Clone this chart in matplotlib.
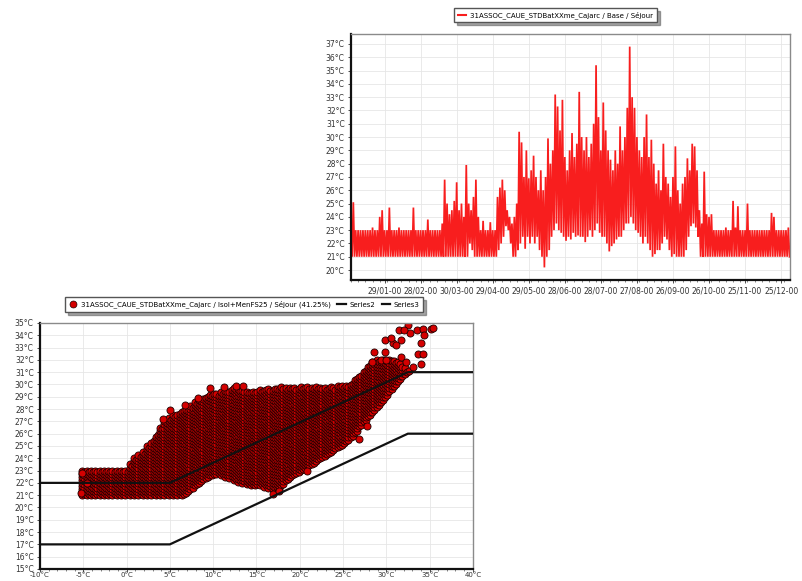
import numpy as np
import matplotlib
matplotlib.use("Agg")
import matplotlib.pyplot as plt
from matplotlib.lines import Line2D
from matplotlib.ticker import MultipleLocator

# ---------------- Top chart data (every 2 days, upper/lower envelope) -------------
days = list(range(0, 366, 2))
temp_high = [
    23.0, 25.1, 23.0, 23.0, 23.0, 23.0, 23.0, 23.0, 23.0, 23.2,
    23.0, 23.0, 24.0, 24.5, 23.0, 23.0, 24.7, 23.0, 23.0, 23.0,
    23.2, 23.0, 23.0, 23.0, 23.0, 23.0, 24.7, 23.0, 23.0, 23.0,
    23.0, 23.0, 23.8, 23.0, 23.0, 23.0, 23.0, 23.0, 23.5, 26.8,
    25.0, 24.2, 24.5, 25.2, 26.6, 24.5, 25.0, 24.0, 27.9, 25.0,
    24.5, 25.5, 26.8, 24.0, 23.0, 23.7, 23.0, 23.0, 23.6, 23.0,
    23.0, 25.5, 26.2, 26.8, 26.0, 24.5, 24.0, 23.5, 24.0, 25.0,
    30.4, 29.6, 27.0, 29.0, 26.9, 27.5, 28.6, 27.0, 26.0, 27.5,
    26.0, 27.0, 29.9, 28.0, 29.0, 33.2, 32.3, 30.5, 32.8, 28.5,
    27.5, 29.0, 30.3, 28.5, 29.5, 33.4, 30.0, 29.0, 30.0, 28.5,
    29.5, 31.0, 35.4, 31.5, 29.0, 32.6, 30.5, 29.0, 28.3, 27.5,
    29.0, 28.0, 30.8, 29.0, 30.0, 32.2, 36.8, 33.0, 32.2, 30.0,
    29.0, 28.5, 30.0, 31.7, 28.5, 29.8, 28.0, 26.5, 27.5, 26.0,
    29.5, 27.0, 26.5, 25.5, 27.0, 29.3, 26.0, 25.0, 26.5, 27.0,
    28.4, 27.5, 29.5, 29.3, 27.5, 24.5, 23.5, 27.4, 24.2, 24.0,
    24.2, 23.0, 23.0, 23.0, 23.0, 23.0, 23.2, 23.0, 23.0, 25.2,
    23.2, 24.8, 23.0, 23.0, 23.0, 25.0, 23.0, 23.0, 23.0, 23.0,
    23.0, 23.0, 23.0, 23.0, 23.0, 24.3, 24.0, 23.0, 23.0, 23.0,
    23.0, 23.0, 23.2,
]
temp_low = [
    21.0, 21.0, 21.0, 21.0, 21.0, 21.0, 21.0, 21.0, 21.0, 21.0,
    21.0, 21.0, 21.0, 21.0, 21.0, 21.0, 21.0, 21.0, 21.0, 21.0,
    21.0, 21.0, 21.0, 21.0, 21.0, 21.0, 21.0, 21.0, 21.0, 21.0,
    21.0, 21.0, 21.0, 21.0, 21.0, 21.0, 21.0, 21.0, 21.0, 21.0,
    21.0, 21.0, 21.0, 21.0, 21.0, 21.0, 21.0, 21.0, 21.0, 22.0,
    21.5, 21.0, 21.0, 21.0, 21.0, 21.0, 21.0, 21.0, 21.0, 21.0,
    21.0, 21.5, 22.0, 22.5, 23.3, 23.0, 22.0, 21.0, 21.0, 21.5,
    22.0, 22.5, 21.6, 22.5, 22.0, 22.5, 22.0, 22.5, 21.5, 21.0,
    20.2, 21.0, 21.5, 22.5, 23.0, 23.5, 23.0, 22.8, 22.5, 22.2,
    22.5, 22.3, 22.8, 22.5, 22.6, 22.5, 22.5, 22.1, 22.5, 23.0,
    22.5, 23.0, 23.5, 22.8, 22.5, 22.5, 22.0, 21.4, 21.8, 22.0,
    22.3, 22.5, 22.5, 23.0, 23.5, 23.5, 24.0, 23.5, 23.0, 22.8,
    22.5, 22.0, 22.5, 22.0, 21.5, 21.0, 21.2, 21.5, 21.5, 22.0,
    22.5, 22.3, 21.5, 21.0, 21.2, 21.0, 21.0, 21.0, 21.0, 21.5,
    22.5, 23.3, 23.5, 23.2, 22.5, 21.0, 21.0, 21.0, 21.0, 21.0,
    21.0, 21.0, 21.0, 21.0, 21.0, 21.0, 21.0, 21.0, 21.0, 21.0,
    21.0, 21.0, 21.0, 21.0, 21.0, 21.0, 21.0, 21.0, 21.0, 21.0,
    21.0, 21.0, 21.0, 21.0, 21.0, 21.0, 21.0, 21.0, 21.0, 21.0,
    21.0, 21.0, 21.0,
]
date_tick_days = [28, 58, 88, 118, 148, 178, 208, 238, 268, 298, 328, 358]
date_tick_labels = ["29/01-00", "28/02-00", "30/03-00", "29/04-00", "29/05-00",
                    "28/06-00", "28/07-00", "27/08-00", "26/09-00", "26/10-00",
                    "25/11-00", "25/12-00"]
top_label = "31ASSOC_CAUE_STDBatXXme_Cajarc / Base / Séjour"

# ---------------- Bottom chart data -------------
out_temp = [-5.0, -4.5, -4.0, -3.5, -3.0, -2.5, -2.0, -1.5, -1.0, -0.5,
            0.0, 0.5, 1.0, 1.5, 2.0, 2.5, 3.0, 3.5, 4.0, 4.5,
            5.0, 5.5, 6.0, 6.5, 7.0, 7.5, 8.0, 8.5, 9.0, 9.5,
            10.0, 10.5, 11.0, 11.5, 12.0, 12.5, 13.0, 13.5, 14.0, 14.5,
            15.0, 15.5, 16.0, 16.5, 17.0, 17.5, 18.0, 18.5, 19.0, 19.5,
            20.0, 20.5, 21.0, 21.5, 22.0, 22.5, 23.0, 23.5, 24.0, 24.5,
            25.0, 25.5, 26.0, 26.5, 27.0, 27.5, 28.0, 28.5, 29.0, 29.5,
            30.0, 30.5, 31.0, 31.5, 32.0, 32.5]
in_temp_high = [23.0, 23.0, 23.0, 23.0, 23.0, 23.0, 23.0, 23.0, 23.0, 23.0,
                23.1, 23.6, 24.0, 24.3, 24.6, 25.0, 25.4, 25.9, 26.5, 27.0,
                27.3, 27.5, 27.7, 27.9, 28.0, 28.3, 28.6, 28.8, 29.0, 29.2,
                29.3, 29.3, 29.4, 29.5, 29.6, 29.7, 29.6, 29.5, 29.4, 29.5,
                29.5, 29.6, 29.6, 29.6, 29.7, 29.7, 29.8, 29.8, 29.8, 29.8,
                29.8, 29.8, 29.8, 29.8, 29.8, 29.8, 29.8, 29.8, 29.8, 29.9,
                29.9, 29.9, 30.1, 30.5, 30.8, 31.2, 31.6, 31.8, 32.0, 32.0,
                32.0, 32.0, 32.0, 31.8, 31.5, 31.2]
in_temp_low = [21.0, 21.0, 21.0, 21.0, 21.0, 21.0, 21.0, 21.0, 21.0, 21.0,
               21.0, 21.0, 21.0, 21.0, 21.0, 21.0, 21.0, 21.0, 21.0, 21.0,
               21.0, 21.0, 21.0, 21.0, 21.2, 21.5, 21.8, 22.0, 22.3, 22.5,
               22.6, 22.7, 22.6, 22.5, 22.4, 22.2, 22.1, 22.0, 21.9, 21.8,
               21.8, 21.8, 21.7, 21.6, 21.5, 21.4, 21.8, 22.2, 22.5, 22.7,
               22.9, 23.1, 23.3, 23.5, 23.8, 24.0, 24.2, 24.4, 24.7, 24.9,
               25.1, 25.4, 25.7, 26.1, 26.6, 27.0, 27.4, 27.8, 28.2, 28.6,
               29.0, 29.5, 29.9, 30.3, 30.7, 31.0]
sparse_out = [28.4, 28.6, 29.8, 29.8, 30.75, 30.6, 31.5, 31.7, 32.5, 32.7,
              33.5, 34.2, 34.4, 34.0, 33.65, 34.2, 34.05, 35.2, 32.0, 31.1,
              29.4, 30.0, 31.7, 32.3, 33.1, 35.4,
              4.2, 5.0, 6.8, 8.3, 9.6, 11.2, 12.7, 13.4, 16.9, 17.6,
              -5.3, -5.2, -4.6, 27.8, 26.9, 20.8]
sparse_in = [31.85, 32.67, 32.67, 33.6, 33.35, 33.75, 34.4, 33.6, 34.8, 34.2,
             34.4, 34.5, 34.0, 33.35, 32.5, 32.5, 31.7, 34.5, 34.4, 33.2,
             32.0, 32.0, 32.26, 31.85, 31.45, 34.6,
             27.2, 27.9, 28.3, 28.9, 29.7, 29.8, 29.9, 29.9, 21.1, 21.3,
             21.2, 22.8, 22.0, 26.6, 25.6, 23.0]
series2_x = [-10, 5, 32.5, 40]
series2_y = [22, 22, 31, 31]
series3_x = [-10, 5, 32.5, 40]
series3_y = [17, 17, 26, 26]
bottom_label = "31ASSOC_CAUE_STDBatXXme_Cajarc / Isol+MenFS25 / Séjour (41.25%)"

# ---------------- Figure -------------
fig = plt.figure(figsize=(8.03, 5.81), dpi=100)
plt.rcParams['font.family'] = ['DejaVu Sans']
FS = 5.5
LFS = 5.0
RED = '#f81e1e'


def style_axes(ax):
    ax.grid(True, which='major', color='#e6e6e6', lw=0.6)
    ax.set_axisbelow(True)
    for s in ('left', 'bottom'):
        ax.spines[s].set_color('#111111')
        ax.spines[s].set_linewidth(1.6)
    for s in ('top', 'right'):
        ax.spines[s].set_color('#8a8a8a')
        ax.spines[s].set_linewidth(1.0)
    ax.tick_params(which='major', labelsize=FS, length=2.5, width=0.6,
                   colors='#333333', pad=2)
    ax.tick_params(which='minor', length=1.5, width=0.5, colors='#555555')


# Top chart: zigzag between the upper and lower values of each sample
ax1 = fig.add_axes([0.437, 0.518, 0.547, 0.4235])
d_arr = np.array(days, dtype=float)
xs = np.ravel(np.column_stack([d_arr, d_arr + 1.0]))
ys = np.ravel(np.column_stack([temp_high, temp_low]))
ax1.plot(xs, ys, color=RED, lw=1.25, solid_joinstyle='miter')
ax1.set_xlim(0, 365.5)
ax1.set_ylim(19.25, 37.75)
ax1.set_xticks(date_tick_days)
ax1.set_xticklabels(date_tick_labels)
ax1.xaxis.set_minor_locator(MultipleLocator(6))
ax1.set_yticks(range(20, 38))
ax1.set_yticklabels([f"{v}°C" for v in range(20, 38)])
style_axes(ax1)

fig.legend([Line2D([], [], color=RED, lw=1.5)], [top_label],
           loc='center', bbox_to_anchor=(0.692, 0.974), fontsize=LFS,
           frameon=True, fancybox=False, shadow=True, edgecolor='#555555',
           handlelength=1.2, borderpad=0.5, handletextpad=0.6)

# Bottom chart: each 0.5 °C outdoor bin is drawn as two sub-columns of points
ax2 = fig.add_axes([0.0498, 0.0207, 0.539, 0.4234])
px, py = [], []
for x, lo, hi in zip(out_temp, in_temp_low, in_temp_high):
    for dx, dy in ((-0.125, 0.0), (0.125, 0.12)):
        col = np.arange(lo + dy, hi + 1e-6, 0.25)
        px.extend([x + dx] * len(col))
        py.extend(col)
px.extend(sparse_out)
py.extend(sparse_in)
ax2.scatter(px, py, s=26, c='#d40000', edgecolors='#1e0000', linewidths=0.6, zorder=2)
ax2.plot(series2_x, series2_y, color='#111111', lw=1.6, zorder=3)
ax2.plot(series3_x, series3_y, color='#111111', lw=1.6, zorder=3)
ax2.set_xlim(-10, 40)
ax2.set_ylim(15, 35)
ax2.set_xticks(range(-10, 41, 5))
ax2.set_xticklabels([f"{v}°C" for v in range(-10, 41, 5)])
ax2.xaxis.set_minor_locator(MultipleLocator(1))
ax2.set_yticks(range(15, 36))
ax2.set_yticklabels([f"{v}°C" for v in range(15, 36)])
style_axes(ax2)
ax2.tick_params(axis='x', which='major', length=1.8, pad=0.5, labelsize=5.0)

h_sc = Line2D([], [], marker='o', ls='none', markersize=5,
              markerfacecolor='#d40000', markeredgecolor='#1e0000', markeredgewidth=0.5)
h_s2 = Line2D([], [], color='#111111', lw=1.6)
h_s3 = Line2D([], [], color='#111111', lw=1.6)
fig.legend([h_sc, h_s2, h_s3], [bottom_label, "Series2", "Series3"],
           loc='center', bbox_to_anchor=(0.304, 0.476), ncol=3, fontsize=LFS,
           frameon=True, fancybox=False, shadow=True, edgecolor='#555555',
           handlelength=1.2, borderpad=0.5, handletextpad=0.5, columnspacing=1.0)

fig.savefig("out.png", dpi=100)
